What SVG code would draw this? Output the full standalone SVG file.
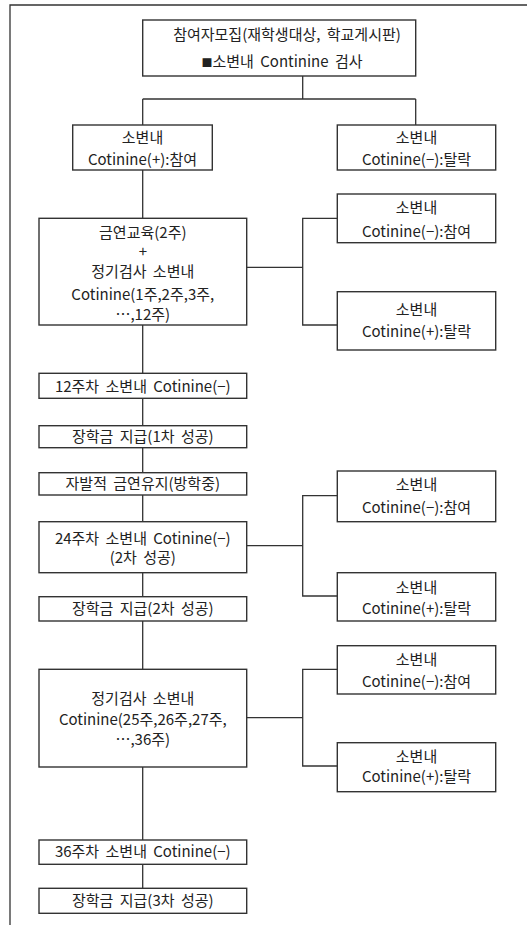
<svg xmlns="http://www.w3.org/2000/svg" width="527" height="925" viewBox="0 0 527 925">
<style>
.b{fill:#fff;stroke:#333;stroke-width:1.4}
.c{fill:none;stroke:#333;stroke-width:1.3}
text{font-family:"Noto Sans CJK KR","Noto Sans",sans-serif;font-size:15px;fill:#222;text-anchor:middle;word-spacing:3px}
</style>
<rect width="527" height="925" fill="#fff"/>
<path class="c" d="M10 925V5H527"/>
<g id="connectors">
<path class="c" d="M302.7 76V99M142.7 99H415.7M142.7 99V125M415.7 99V125"/>
<path class="c" d="M142.7 170V218.3M142.7 325V373.3M142.7 398.3V425.7M142.7 447.7V472.7M142.7 495V521.7M142.7 572.7V596.7M142.7 621V669.3M142.7 767V840M142.7 864.3V888.3"/>
<path class="c" d="M246.7 267.3H302.7M337.3 218.3H302.7V325H337.3"/>
<path class="c" d="M246.7 545.7H302.7M337.3 495.7H302.7V596H337.3"/>
<path class="c" d="M246.7 717.7H302.7M337.3 669.3H302.7V766H337.3"/>
</g>
<g id="n1"><rect class="b" x="142.7" y="20" width="273" height="56"/><text x="287" y="40">참여자모집(재학생대상, 학교게시판)</text><text x="282" y="67"><tspan font-size="11">■</tspan>소변내 Continine 검사</text></g>
<g id="n2"><rect class="b" x="72.7" y="125" width="139.6" height="45"/><text x="142.5" y="143">소변내</text><text x="142.5" y="165">Cotinine(+):참여</text></g>
<g id="n3"><rect class="b" x="337.3" y="125" width="158.4" height="45"/><text x="416.5" y="143">소변내</text><text x="416.5" y="165">Cotinine(−):탈락</text></g>
<g id="n4"><rect class="b" x="39" y="218.3" width="207.7" height="106.7"/><text x="142.8" y="238">금연교육(2주)</text><text x="142.8" y="257">+</text><text x="142.8" y="277">정기검사 소변내</text><text x="142.8" y="300">Cotinine(1주,2주,3주,</text><text x="142.8" y="320">⋯,12주)</text></g>
<g id="n5"><rect class="b" x="337.3" y="194" width="158.4" height="48.7"/><text x="416.5" y="213">소변내</text><text x="416.5" y="237">Cotinine(−):참여</text></g>
<g id="n6"><rect class="b" x="337.3" y="291.7" width="158.4" height="58.3"/><text x="416.5" y="315">소변내</text><text x="416.5" y="337">Cotinine(+):탈락</text></g>
<g id="n7"><rect class="b" x="39" y="373.3" width="207.7" height="25"/><text x="142.8" y="391.5">12주차 소변내 Cotinine(−)</text></g>
<g id="n8"><rect class="b" x="39" y="425.7" width="207.7" height="22"/><text x="142.8" y="442">장학금 지급(1차 성공)</text></g>
<g id="n9"><rect class="b" x="39" y="472.7" width="207.7" height="22.3"/><text x="142.8" y="489">자발적 금연유지(방학중)</text></g>
<g id="n10"><rect class="b" x="39" y="521.7" width="207.7" height="51"/><text x="142.8" y="544">24주차 소변내 Cotinine(−)</text><text x="142.8" y="563">(2차 성공)</text></g>
<g id="n11"><rect class="b" x="337.3" y="471" width="158.4" height="50.7"/><text x="416.5" y="490">소변내</text><text x="416.5" y="513">Cotinine(−):참여</text></g>
<g id="n12"><rect class="b" x="337.3" y="572.7" width="158.4" height="48.3"/><text x="416.5" y="593">소변내</text><text x="416.5" y="614">Cotinine(+):탈락</text></g>
<g id="n13"><rect class="b" x="39" y="596.7" width="207.7" height="24.3"/><text x="142.8" y="614">장학금 지급(2차 성공)</text></g>
<g id="n14"><rect class="b" x="337.3" y="645.7" width="158.4" height="48.3"/><text x="416.5" y="665">소변내</text><text x="416.5" y="687">Cotinine(−):참여</text></g>
<g id="n15"><rect class="b" x="39" y="669.3" width="207.7" height="97.7"/><text x="142.8" y="704">정기검사 소변내</text><text x="142.8" y="725">Cotinine(25주,26주,27주,</text><text x="142.8" y="745">⋯,36주)</text></g>
<g id="n16"><rect class="b" x="337.3" y="742.7" width="158.4" height="49"/><text x="416.5" y="762">소변내</text><text x="416.5" y="782">Cotinine(+):탈락</text></g>
<g id="n17"><rect class="b" x="39" y="840" width="207.7" height="24.3"/><text x="142.8" y="857">36주차 소변내 Cotinine(−)</text></g>
<g id="n18"><rect class="b" x="39" y="888.3" width="207.7" height="25"/><text x="142.8" y="906">장학금 지급(3차 성공)</text></g>
</svg>
